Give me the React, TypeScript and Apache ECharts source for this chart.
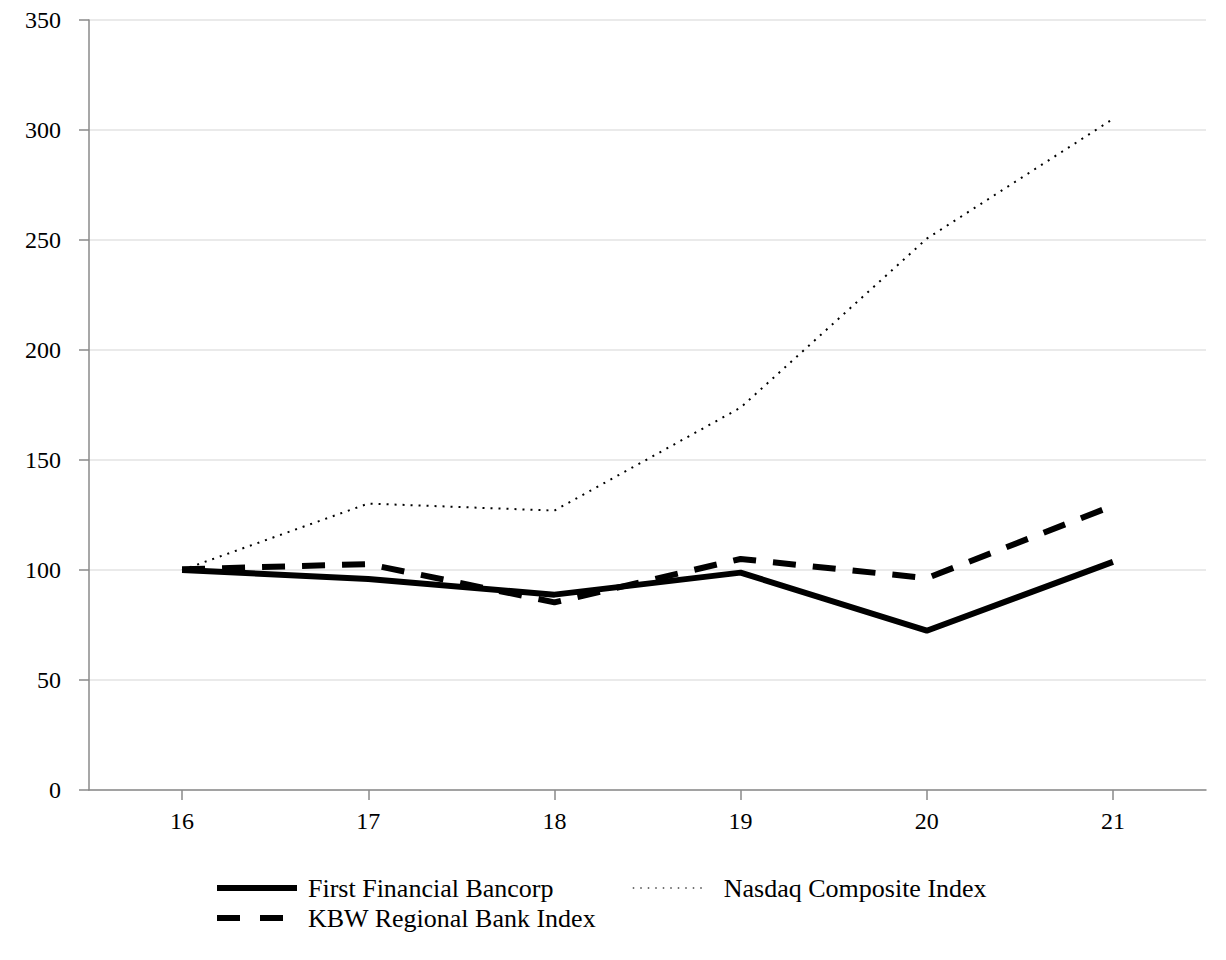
import React, { useEffect, useRef } from "react";
import * as echarts from "echarts";

const categories = ["16", "17", "18", "19", "20", "21"];
const firstFinancial = [100, 95.9, 88.8, 98.8, 72.4, 103.7];
const kbwRegional = [100.3, 102.7, 85.3, 105, 96.3, 129.2];
const nasdaq = [100, 130.2, 127, 173.8, 250.6, 305];
const yTicks = { min: 0, max: 350, interval: 50 };

const FONT = "Liberation Serif";

export default function App() {
  const ref = useRef<HTMLDivElement>(null);
  useEffect(() => {
    if (!ref.current) return;
    const chart = echarts.init(ref.current, undefined, { renderer: "svg" });
    chart.setOption({
      animation: false,
      backgroundColor: "#ffffff",
      textStyle: { fontFamily: FONT, color: "#000" },
      grid: { left: 89, right: 20, top: 20, bottom: 170, containLabel: false },
      xAxis: {
        type: "category",
        data: categories,
        boundaryGap: true,
        axisLine: { show: true, lineStyle: { color: "#8a8a8a", width: 1.5 } },
        axisTick: { show: true, alignWithLabel: true, length: 10, lineStyle: { color: "#8a8a8a", width: 1.5 } },
        axisLabel: { fontFamily: FONT, fontSize: 24, color: "#000", margin: 19 },
        splitLine: { show: false },
      },
      yAxis: {
        type: "value",
        min: yTicks.min,
        max: yTicks.max,
        interval: yTicks.interval,
        axisLine: { show: true, lineStyle: { color: "#8a8a8a", width: 1.5 } },
        axisTick: { show: true, length: 10, lineStyle: { color: "#8a8a8a", width: 1.5 } },
        axisLabel: { fontFamily: FONT, fontSize: 24, color: "#000", margin: 28 },
        splitLine: { show: true, lineStyle: { color: "#e3e3e3", width: 1.5 } },
      },
      legend: [
        {
          orient: "vertical",
          left: 214,
          top: 875,
          padding: 0,
          itemWidth: 80,
          itemHeight: 10,
          itemGap: 4,
          itemStyle: { opacity: 0 },
          textStyle: { fontFamily: FONT, fontSize: 26, color: "#000", padding: [0, 0, 0, 6], lineHeight: 26 },
          data: [
            { name: "First Financial Bancorp", lineStyle: { width: 6, type: "solid", color: "#000" } },
            { name: "KBW Regional Bank Index", lineStyle: { width: 6, type: [23, 20], color: "#000" } },
          ],
        },
        {
          orient: "vertical",
          left: 632,
          top: 875,
          padding: 0,
          itemWidth: 75,
          itemHeight: 10,
          itemStyle: { opacity: 0 },
          textStyle: { fontFamily: FONT, fontSize: 26, color: "#000", padding: [0, 0, 0, 11], lineHeight: 26 },
          data: [{ name: "Nasdaq Composite Index", lineStyle: { width: 1.5, type: [1.5, 6], color: "#444" } }],
        },
      ],
      series: [
        {
          name: "First Financial Bancorp",
          type: "line",
          data: firstFinancial,
          symbol: "none",
          lineStyle: { color: "#000", width: 6, type: "solid" },
          itemStyle: { color: "#000" },
          z: 3,
        },
        {
          name: "KBW Regional Bank Index",
          type: "line",
          data: kbwRegional,
          symbol: "none",
          lineStyle: { color: "#000", width: 6, type: [23, 17] },
          itemStyle: { color: "#000" },
          z: 2,
        },
        {
          name: "Nasdaq Composite Index",
          type: "line",
          data: nasdaq,
          symbol: "none",
          lineStyle: { color: "#000", width: 2, type: [2, 6] },
          itemStyle: { color: "#000" },
          z: 1,
        },
      ],
    });
    return () => chart.dispose();
  }, []);
  return (
    <div
      ref={ref}
      style={{ position: "absolute", left: 0, top: 0, width: 1226, height: 960, background: "#fff" }}
    />
  );
}
